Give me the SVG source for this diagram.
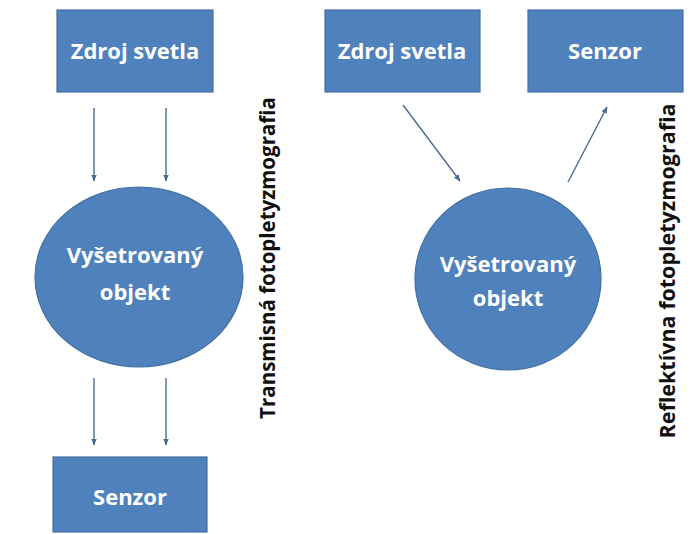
<svg xmlns="http://www.w3.org/2000/svg" width="691" height="534" viewBox="0 0 691 534">
  <style>
    .box { fill: #4f81bd; stroke: #41709f; stroke-width: 1.2; }
    .obj { fill: #4f81bd; stroke: #41709f; stroke-width: 1.2; }
    .lbl { font-family: "Open Sans", "Liberation Sans", sans-serif; font-weight: 700; font-size: 22px; fill: #ffffff; text-anchor: middle; }
    .side { font-family: "Open Sans", "Liberation Sans", sans-serif; font-weight: 700; font-size: 20.5px; fill: #111111; text-anchor: middle; }
    .arrow { stroke: #4d6b95; stroke-width: 1.4; fill: none; marker-end: url(#head); }
  </style>
  <defs>
    <marker id="head" viewBox="0 0 10 10" refX="9" refY="5" markerWidth="7" markerHeight="7" orient="auto" markerUnits="userSpaceOnUse">
      <path d="M0,1 L10,5 L0,9 z" fill="#4d6b95"/>
    </marker>
  </defs>
  <rect width="691" height="534" fill="#ffffff"/>

  <!-- connectors -->
  <g id="connectors">
    <line class="arrow" x1="94" y1="108" x2="94" y2="181"/>
    <line class="arrow" x1="166" y1="108" x2="166" y2="181"/>
    <line class="arrow" x1="94" y1="378" x2="94" y2="445"/>
    <line class="arrow" x1="166" y1="378" x2="166" y2="445"/>
    <line class="arrow" x1="403" y1="105" x2="460" y2="181"/>
    <line class="arrow" x1="568" y1="182" x2="607" y2="107"/>
  </g>

  <!-- transmission setup -->
  <g id="t-source">
    <rect class="box" x="57" y="10" width="156" height="82"/>
    <text class="lbl" x="135" y="59">Zdroj svetla</text>
  </g>
  <g id="t-object">
    <ellipse class="obj" cx="139" cy="277" rx="104" ry="90"/>
    <text class="lbl" x="135" y="263">Vyšetrovaný</text>
    <text class="lbl" x="135" y="300">objekt</text>
  </g>
  <g id="t-sensor">
    <rect class="box" x="53" y="457" width="154" height="75"/>
    <text class="lbl" x="130" y="505">Senzor</text>
  </g>
  <g id="t-title">
    <text class="side" transform="translate(275,258) rotate(-90)">Transmisná fotopletyzmografia</text>
  </g>

  <!-- reflection setup -->
  <g id="r-source">
    <rect class="box" x="325" y="10" width="155" height="82"/>
    <text class="lbl" x="402" y="59">Zdroj svetla</text>
  </g>
  <g id="r-sensor">
    <rect class="box" x="528" y="10" width="155" height="82"/>
    <text class="lbl" x="605" y="59">Senzor</text>
  </g>
  <g id="r-object">
    <ellipse class="obj" cx="508" cy="279" rx="93" ry="91"/>
    <text class="lbl" x="508" y="272">Vyšetrovaný</text>
    <text class="lbl" x="508" y="306">objekt</text>
  </g>
  <g id="r-title">
    <text class="side" style="font-size:21.5px" transform="translate(675,271) rotate(-90)">Reflektívna fotopletyzmografia</text>
  </g>
</svg>
